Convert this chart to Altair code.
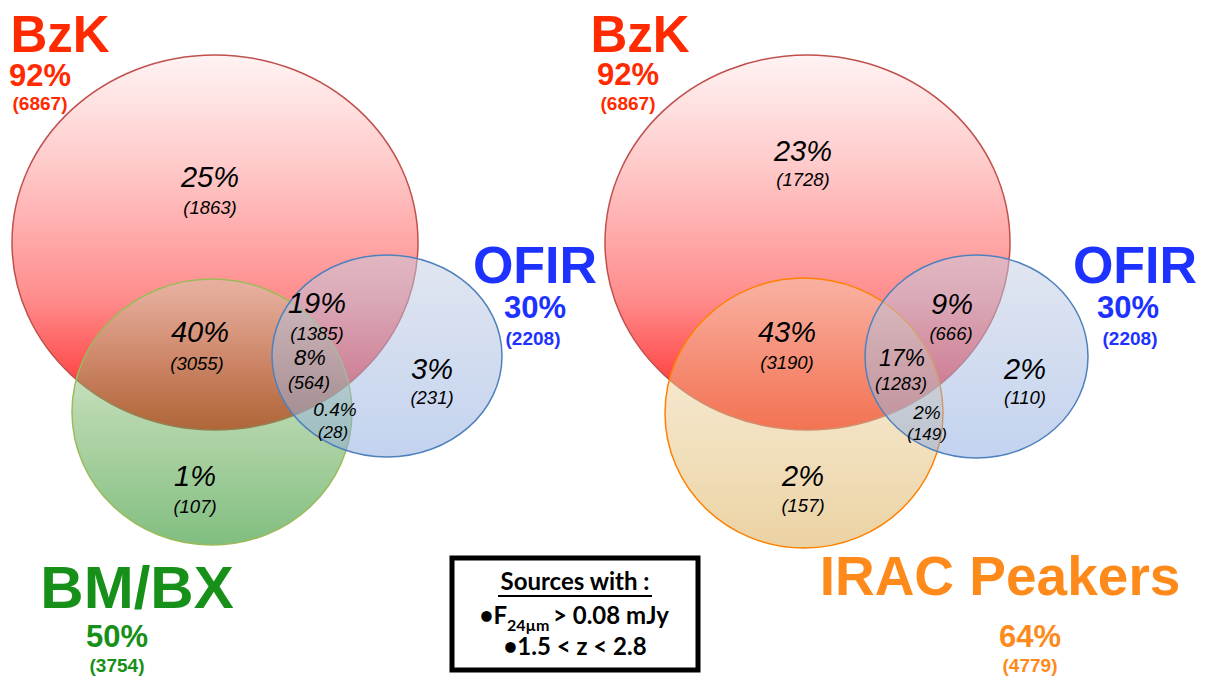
import altair as alt
import pandas as pd

# ---------------- data ----------------
set_names_left = ["BzK", "BM/BX", "OFIR"]
set_pct_left = ["92%", "50%", "30%"]
set_cnt_left = [6867, 3754, 2208]

set_names_right = ["BzK", "IRAC Peakers", "OFIR"]
set_pct_right = ["92%", "64%", "30%"]
set_cnt_right = [6867, 4779, 2208]

left_pct = ["25%", "40%", "19%", "8%", "0.4%", "3%", "1%"]
left_cnt = [1863, 3055, 1385, 564, 28, 231, 107]

right_pct = ["23%", "43%", "9%", "17%", "2%", "2%", "2%"]
right_cnt = [1728, 3190, 666, 1283, 149, 110, 157]

box_lines = ["Sources with :", "•F", "24µm", "> 0.08 mJy", "•1.5 < z < 2.8"]

# ---------------- layout (positions / sizes / styles) ----------------
# ellipses: cx, cy, rx, ry
ell_left = [(215, 242.5, 203, 187.5), (212, 412, 140, 133), (387, 356, 115, 101)]
ell_right = [(807.5, 242.5, 202.5, 187.5), (804, 413, 139, 135), (976.5, 356.5, 111.5, 101.5)]

left_pct_pos = [(210, 178), (200, 333), (317, 304), (310, 358), (335, 410), (432, 370), (195, 477)]
left_cnt_pos = [(210, 208), (197, 364), (317, 334), (309, 384), (333, 433), (432, 398), (195, 507)]
left_pct_size = [29, 29, 29, 22, 19, 29, 29]
left_cnt_size = [18.5, 18.5, 18.5, 18, 17, 18.5, 18.5]

right_pct_pos = [(803, 152), (787, 333), (952, 305), (902, 359), (927, 413), (1025, 370), (803, 477)]
right_cnt_pos = [(803, 180), (787, 363), (951, 334), (901, 385), (927, 435), (1025, 398), (803, 506)]
right_pct_size = [29, 29, 29, 23, 19, 29, 29]
right_cnt_size = [18.5, 18.5, 18.5, 18, 17, 18.5, 18.5]

RED, GREEN, BLUE, ORANGE = "#ff2a00", "#17901a", "#1e32ff", "#ff8a1c"

# set label positions: name (x, y, size), pct (x, y), cnt (x, y)
left_name_pos = [(60, 37, 51), (137, 590, 60), (535, 267, 52)]
left_setpct_pos = [(40, 77), (117, 638), (535, 309)]
left_setcnt_pos = [(40, 104), (117, 666), (533, 339)]
left_colors = [RED, GREEN, BLUE]

right_name_pos = [(640, 37, 51), (1000, 578, 55), (1135, 267, 52)]
right_setpct_pos = [(628, 76), (1030, 638), (1128, 309)]
right_setcnt_pos = [(628, 104), (1030, 666), (1130, 339)]
right_colors = [RED, ORANGE, BLUE]

XS = alt.Scale(domain=[8, 1205], nice=False, zero=False)
YS = alt.Scale(domain=[676, 8], nice=False, zero=False)


def X(f="x"):
    return alt.X(f"{f}:Q", scale=XS, axis=None)


def Y(f="y"):
    return alt.Y(f"{f}:Q", scale=YS, axis=None)


def ellipse_path(k):
    c = 0.5523
    return (f"M 1 0 C 1 {c*k:.4f} {c:.4f} {k:.4f} 0 {k:.4f} "
            f"C {-c:.4f} {k:.4f} -1 {c*k:.4f} -1 0 "
            f"C -1 {-c*k:.4f} {-c:.4f} {-k:.4f} 0 {-k:.4f} "
            f"C {c:.4f} {-k:.4f} 1 {-c*k:.4f} 1 0 Z")


def grad(stops):
    return alt.LinearGradient(
        gradient="linear", x1=0, y1=0, x2=0, y2=1,
        stops=[alt.GradientStop(offset=o, color=c) for o, c in stops])


red_grad = grad([(0, "#fff3f3"), (0.3, "#ffc9c9"), (0.65, "#ff8c8c"), (1, "#ff1c1c")])
green_grad = grad([(0, "rgba(190,225,180,0.35)"), (0.5, "rgba(110,175,90,0.5)"),
                   (1, "rgba(50,150,50,0.62)")])
blue_grad = grad([(0, "rgba(195,205,226,0.5)"), (1, "rgba(140,170,224,0.52)")])
orange_grad = grad([(0, "rgba(240,215,175,0.4)"), (0.5, "rgba(232,200,140,0.5)"),
                    (1, "rgba(222,180,100,0.6)")])

styles_left = [
    (red_grad, "#c0504d"),
    (green_grad, "#9bbb59"),
    (blue_grad, "#4f81bd"),
]
styles_right = [
    (red_grad, "#c0504d"),
    (orange_grad, "#ff8000"),
    (blue_grad, "#4f81bd"),
]

layers = []
for ells, styles in [(ell_left, styles_left), (ell_right, styles_right)]:
    for (cx, cy, rx, ry), (g, st) in zip(ells, styles):
        df = pd.DataFrame({"x": [cx], "y": [cy]})
        layers.append(
            alt.Chart(df).mark_point(
                shape=ellipse_path(ry / rx), size=(2 * rx) ** 2, filled=True,
                fill=g, fillOpacity=1, opacity=1, stroke=st, strokeWidth=1.5,
                strokeOpacity=1,
            ).encode(x=X(), y=Y())
        )

# region labels
rows_pct, rows_cnt = [], []
for pcts, cnts, ppos, cpos, psz, csz in [
    (left_pct, left_cnt, left_pct_pos, left_cnt_pos, left_pct_size, left_cnt_size),
    (right_pct, right_cnt, right_pct_pos, right_cnt_pos, right_pct_size, right_cnt_size),
]:
    for p, c, (px, py), (qx, qy), s1, s2 in zip(pcts, cnts, ppos, cpos, psz, csz):
        rows_pct.append({"x": px, "y": py, "t": p, "s": s1})
        rows_cnt.append({"x": qx, "y": qy, "t": f"({c})", "s": s2})

for rows in (rows_pct, rows_cnt):
    layers.append(
        alt.Chart(pd.DataFrame(rows)).mark_text(
            font="Liberation Sans", fontStyle="italic", color="black",
            align="center", baseline="middle",
        ).encode(x=X(), y=Y(), text="t:N",
                 size=alt.Size("s:Q", scale=None, legend=None))
    )

# set labels
set_rows = []
for names, pcts, cnts, npos, ppos, cpos, cols in [
    (set_names_left, set_pct_left, set_cnt_left, left_name_pos, left_setpct_pos, left_setcnt_pos, left_colors),
    (set_names_right, set_pct_right, set_cnt_right, right_name_pos, right_setpct_pos, right_setcnt_pos, right_colors),
]:
    for n, p, c, (nx, ny, ns), (px, py), (qx, qy), col in zip(names, pcts, cnts, npos, ppos, cpos, cols):
        set_rows.append({"x": nx, "y": ny, "t": n, "s": ns, "c": col})
        set_rows.append({"x": px, "y": py, "t": p, "s": 31, "c": col})
        set_rows.append({"x": qx, "y": qy, "t": f"({c})", "s": 19, "c": col})

layers.append(
    alt.Chart(pd.DataFrame(set_rows)).mark_text(
        font="Liberation Sans", fontWeight="bold", align="center", baseline="middle",
    ).encode(x=X(), y=Y(), text="t:N",
             size=alt.Size("s:Q", scale=None, legend=None),
             color=alt.Color("c:N", scale=None, legend=None))
)

# legend box
box = pd.DataFrame({"x": [452], "x2": [698], "y": [558], "y2": [670]})
layers.append(
    alt.Chart(box).mark_rect(fill="white", stroke="black", strokeWidth=5)
    .encode(x=X(), x2="x2:Q", y=Y(), y2="y2:Q")
)
ul = pd.DataFrame({"x": [498], "x2": [652], "y": [596]})
layers.append(
    alt.Chart(ul).mark_rule(color="black", strokeWidth=1.8)
    .encode(x=X(), x2="x2:Q", y=Y())
)
box_pos = [(575, 583, "center", 24), (507, 617, "right", 24), (507, 626, "left", 16),
           (553, 617, "left", 24), (575, 648, "center", 24)]
for t, (bx, by, al, fs) in zip(box_lines, box_pos):
    layers.append(
        alt.Chart(pd.DataFrame({"x": [bx], "y": [by], "t": [t]})).mark_text(
            font="Lato", fontWeight="bold", fontSize=fs, align=al, baseline="middle",
            color="black",
        ).encode(x=X(), y=Y(), text="t:N")
    )

chart = alt.layer(*layers).properties(
    width=1197, height=668, padding=0, autosize=alt.AutoSizeParams(type="none")
).configure_view(stroke=None)

chart.save("out.html", embed_options={"renderer": "svg", "actions": False})
